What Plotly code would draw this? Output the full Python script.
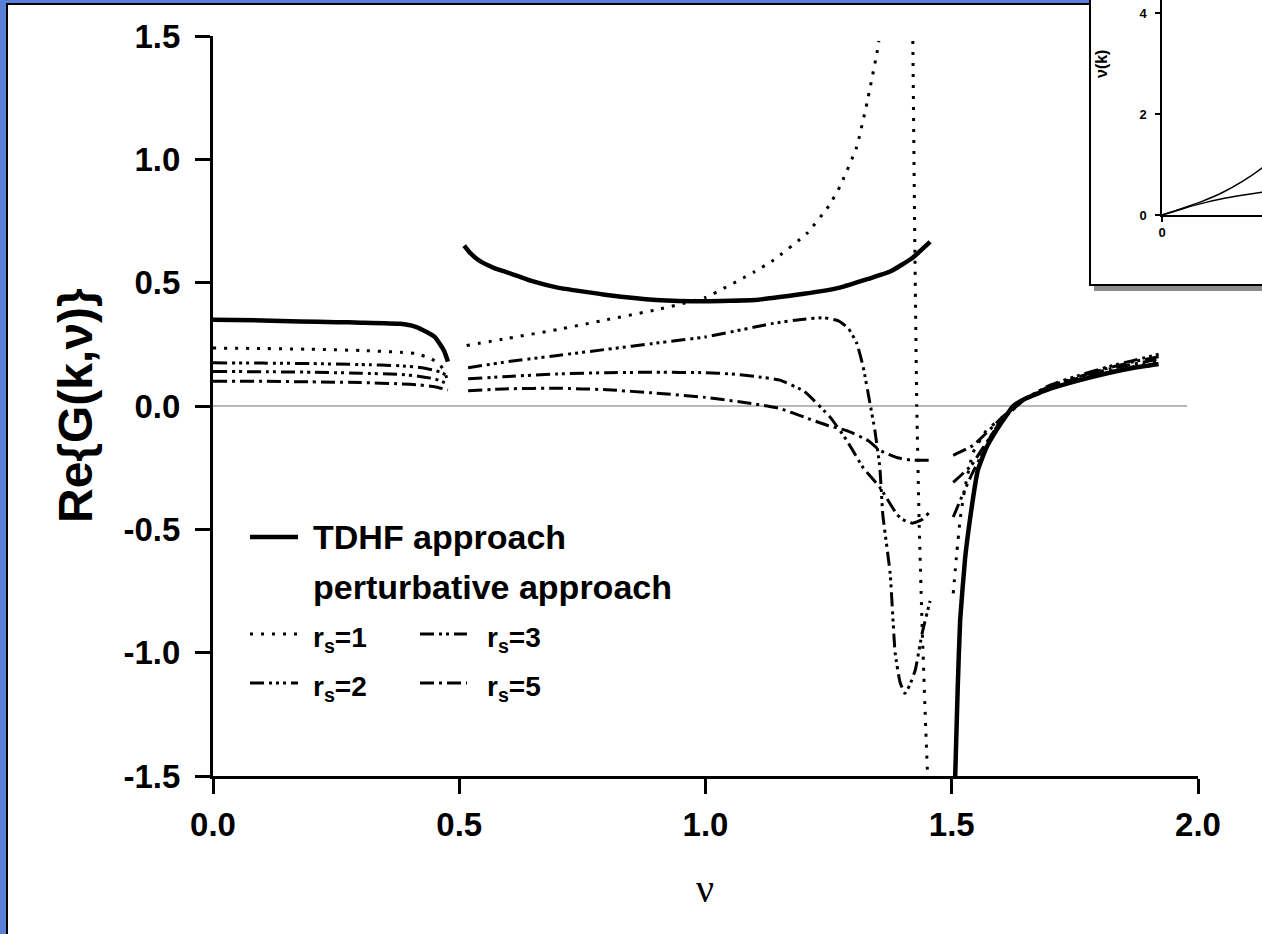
import plotly.graph_objects as go

W, H = 1262, 934

# ---------------- data ----------------
TDHF_NU = [0, 0.1, 0.177, 0.25, 0.3, 0.38, 0.41, 0.434, 0.45, 0.461, 0.47, 0.477, None,
           0.51, 0.52, 0.54, 0.57, 0.6, 0.65, 0.7, 0.8, 0.9, 1.0, 1.1, 1.2, 1.273, 1.33, 1.375, 1.42, 1.456, None,
           1.507, 1.512, 1.517, 1.527, 1.537, 1.553, 1.57, 1.584, 1.6, 1.625, 1.65, 1.7, 1.76, 1.82, 1.87, 1.92]
TDHF_G = [0.35, 0.347, 0.343, 0.34, 0.338, 0.333, 0.322, 0.3, 0.28, 0.25, 0.22, 0.18, None,
          0.65, 0.625, 0.59, 0.56, 0.54, 0.505, 0.48, 0.45, 0.43, 0.425, 0.43, 0.455, 0.48, 0.515, 0.545, 0.6, 0.665, None,
          -1.5, -1.15, -0.87, -0.62, -0.46, -0.26, -0.17, -0.12, -0.07, 0.0, 0.03, 0.07, 0.105, 0.135, 0.155, 0.17]

RS1_NU = [0, 0.1, 0.2, 0.3, 0.38, 0.41, 0.44, 0.46, 0.47, 0.478, None,
          0.515, 0.6, 0.7, 0.8, 0.9, 1.0, 1.1, 1.137, 1.206, 1.25, 1.273, 1.307, 1.328, 1.348, 1.352, None,
          1.421, 1.425, 1.429, 1.434, 1.44, 1.447, 1.451, None,
          1.503, 1.51, 1.517, 1.527, 1.543, 1.57, 1.6, 1.65, 1.7, 1.76, 1.82, 1.87, 1.92]
RS1_G = [0.235, 0.233, 0.23, 0.225, 0.218, 0.213, 0.195, 0.17, 0.14, 0.09, None,
         0.245, 0.275, 0.31, 0.35, 0.39, 0.44, 0.545, 0.59, 0.70, 0.81, 0.89, 1.05, 1.23, 1.43, 1.48, None,
         1.48, 0.66, 0.0, -0.49, -0.9, -1.3, -1.5, None,
         -0.76, -0.6, -0.46, -0.33, -0.19, -0.1, -0.05, 0.03, 0.075, 0.11, 0.14, 0.16, 0.18]

RS2_NU = [0, 0.1, 0.2, 0.3, 0.38, 0.42, 0.447, 0.465, 0.477, None,
          0.518, 0.55, 0.6, 0.7, 0.8, 0.9, 1.0, 1.1, 1.137, 1.2, 1.24, 1.27, 1.29, 1.307, 1.32, 1.334, 1.344,
          1.354, 1.36, 1.375, 1.385, 1.395, 1.405, 1.415, 1.426, 1.44, 1.456, None,
          1.503, 1.52, 1.54, 1.56, 1.58, 1.6, 1.65, 1.7, 1.76, 1.82, 1.87, 1.92]
RS2_G = [0.175, 0.174, 0.172, 0.168, 0.163, 0.156, 0.146, 0.135, 0.12, None,
         0.155, 0.165, 0.18, 0.205, 0.23, 0.255, 0.28, 0.32, 0.335, 0.352, 0.358, 0.345, 0.315, 0.255, 0.16, 0.01, -0.1,
         -0.25, -0.44, -0.68, -1.0, -1.12, -1.165, -1.13, -1.07, -0.92, -0.79, None,
         -0.45, -0.37, -0.28, -0.2, -0.12, -0.06, 0.03, 0.085, 0.125, 0.16, 0.185, 0.21]

RS3_NU = [0, 0.1, 0.2, 0.3, 0.38, 0.42, 0.45, 0.477, None,
          0.518, 0.6, 0.7, 0.8, 0.9, 1.0, 1.05, 1.1, 1.151, 1.2, 1.253, 1.287, 1.32, 1.354, 1.389, 1.4, 1.42, 1.44, 1.455, None,
          1.503, 1.54, 1.56, 1.58, 1.6, 1.65, 1.7, 1.76, 1.82, 1.87, 1.92]
RS3_G = [0.14, 0.139, 0.137, 0.133, 0.128, 0.12, 0.11, 0.09, None,
         0.11, 0.12, 0.13, 0.135, 0.137, 0.135, 0.13, 0.12, 0.105, 0.06, -0.045, -0.14, -0.25, -0.33, -0.44, -0.46, -0.475, -0.46, -0.43, None,
         -0.31, -0.24, -0.18, -0.12, -0.06, 0.03, 0.08, 0.12, 0.155, 0.18, 0.2]

RS5_NU = [0, 0.1, 0.2, 0.3, 0.38, 0.42, 0.45, 0.477, None,
          0.518, 0.6, 0.7, 0.8, 0.9, 1.0, 1.1, 1.151, 1.2, 1.25, 1.287, 1.33, 1.354, 1.39, 1.42, 1.456, None,
          1.503, 1.543, 1.57, 1.6, 1.65, 1.7, 1.76, 1.82, 1.87, 1.92]
RS5_G = [0.1, 0.1, 0.098, 0.095, 0.09, 0.085, 0.078, 0.065, None,
         0.062, 0.07, 0.072, 0.066, 0.052, 0.035, 0.008, -0.01, -0.045, -0.08, -0.1, -0.14, -0.18, -0.21, -0.22, -0.22, None,
         -0.2, -0.16, -0.11, -0.05, 0.03, 0.08, 0.115, 0.15, 0.17, 0.19]

ZERO_NU = [0.0, 1.978]
ZERO_G = [0.0, 0.0]

INSET_K = [0, 0.1, 0.2, 0.3, 0.4, 0.5, 0.6]
INSET_UPPER = [0, 0.13, 0.27, 0.44, 0.66, 0.93, 1.25]
INSET_LOWER = [0, 0.12, 0.23, 0.32, 0.39, 0.45, 0.5]

X_TICKS = [0.0, 0.5, 1.0, 1.5, 2.0]
X_TICKTEXT = ["0.0", "0.5", "1.0", "1.5", "2.0"]
Y_TICKS = [-1.5, -1.0, -0.5, 0.0, 0.5, 1.0, 1.5]
Y_TICKTEXT = ["-1.5", "-1.0", "-0.5", "0.0", "0.5", "1.0", "1.5"]
INSET_Y_TICKS = [0, 2, 4]
INSET_X_TICKS = [0]

DASH_RS1 = "3px,8px"
DASH_RS2 = "14px,5px,3px,4px,3px,4px,3px,5px"
DASH_RS3 = "14px,5px,3px,4px,3px,5px"
DASH_RS5 = "14px,5px,3px,5px"

SERIES = [
    ("r<sub>s</sub>=1", RS1_NU, RS1_G, DASH_RS1),
    ("r<sub>s</sub>=2", RS2_NU, RS2_G, DASH_RS2),
    ("r<sub>s</sub>=3", RS3_NU, RS3_G, DASH_RS3),
    ("r<sub>s</sub>=5", RS5_NU, RS5_G, DASH_RS5),
]

# ---------------- helpers (pixel -> paper) ----------------
def px(x):
    return x / W

def py(y):
    return 1 - y / H

FONT = "Liberation Sans, Arial, sans-serif"
BLUE = "#5a7fd6"

fig = go.Figure()

fig.add_trace(go.Scatter(x=ZERO_NU, y=ZERO_G, mode="lines",
                         line=dict(color="#a0a0a0", width=1.5), xaxis="x", yaxis="y",
                         showlegend=False, hoverinfo="skip"))

for name, xs, ys, dash in SERIES:
    fig.add_trace(go.Scatter(x=xs, y=ys, mode="lines", name=name,
                             line=dict(color="black", width=3, dash=dash, shape="spline", smoothing=0.4),
                             connectgaps=False, xaxis="x", yaxis="y", showlegend=False))

fig.add_trace(go.Scatter(x=TDHF_NU, y=TDHF_G, mode="lines", name="TDHF approach",
                         line=dict(color="black", width=4.5, shape="spline", smoothing=0.4),
                         connectgaps=False, xaxis="x", yaxis="y", showlegend=False))

# inset curves
for ys in (INSET_UPPER, INSET_LOWER):
    fig.add_trace(go.Scatter(x=INSET_K, y=ys, mode="lines",
                             line=dict(color="black", width=1.5, shape="spline"),
                             xaxis="x2", yaxis="y2", showlegend=False, cliponaxis=True))

shapes = []
# white page with black border over blue background
shapes.append(dict(type="rect", xref="paper", yref="paper", x0=px(7), x1=px(1320), y0=py(1000), y1=py(4),
                   fillcolor="white", line=dict(color="black", width=2), layer="below"))
# inset shadow + box
shapes.append(dict(type="rect", xref="paper", yref="paper", x0=px(1094), x1=px(1320), y0=py(291), y1=py(-10),
                   fillcolor="#8c8c8c", line=dict(width=0), layer="below"))
shapes.append(dict(type="rect", xref="paper", yref="paper", x0=px(1090), x1=px(1320), y0=py(285), y1=py(-10),
                   fillcolor="white", line=dict(color="black", width=2), layer="below"))

# legend samples
ROW_TDHF, ROW_PERT, ROW_A, ROW_B = 537, 587, 634, 683
LEG = [
    (250, 298, ROW_TDHF, "solid", 4.5),
    (250, 298, ROW_A, DASH_RS1, 3),
    (250, 298, ROW_B, DASH_RS2, 3),
    (420, 467, ROW_A, DASH_RS3, 3),
    (420, 467, ROW_B, DASH_RS5, 3),
]
for x0, x1, y, dash, w in LEG:
    shapes.append(dict(type="line", xref="paper", yref="paper", x0=px(x0), x1=px(x1), y0=py(y), y1=py(y),
                       line=dict(color="black", width=w, dash=dash)))

annotations = []
def ann(text, x, y, size, xanchor="left", bold=True, angle=0, family=FONT):
    annotations.append(dict(text=text, x=px(x), y=py(y), xref="paper", yref="paper", showarrow=False,
                            xanchor=xanchor, yanchor="middle", textangle=angle,
                            font=dict(family=family, size=size, color="black", weight="bold" if bold else "normal")))

ann("TDHF approach", 311, ROW_TDHF, 34)
ann("perturbative approach", 311, ROW_PERT, 34)
ann("r<sub>s</sub>=1", 311, ROW_A + 5, 28)
ann("r<sub>s</sub>=2", 311, ROW_B + 5, 28)
ann("r<sub>s</sub>=3", 485, ROW_A + 5, 28)
ann("r<sub>s</sub>=5", 485, ROW_B + 5, 28)
ann("Re{G(k,ν)}", 76, 406, 48, xanchor="center", angle=-90)
ann("ν", 705, 888, 40, xanchor="center", bold=False, family="Liberation Serif, Times New Roman, serif")
ann("ν(k)", 1102, 64, 16, xanchor="center", angle=-90)

axis_common = dict(showline=True, linecolor="black", showgrid=False, zeroline=False,
                   ticks="outside", tickcolor="black", automargin=False)

fig.update_layout(
    width=W, height=H, template="none",
    margin=dict(l=0, r=0, t=0, b=0, pad=0, autoexpand=False),
    paper_bgcolor=BLUE, plot_bgcolor="rgba(0,0,0,0)",
    showlegend=False,
    xaxis=dict(domain=[px(213), px(1198)], range=[0, 2], anchor="y",
               tickvals=X_TICKS, ticktext=X_TICKTEXT, linewidth=3, ticklen=15, tickwidth=3,
               tickfont=dict(family=FONT, size=33, color="black", weight="bold"),
               ticklabelstandoff=2, **axis_common),
    yaxis=dict(domain=[py(776), py(36)], range=[-1.5, 1.5], anchor="x",
               tickvals=Y_TICKS, ticktext=Y_TICKTEXT, linewidth=3, ticklen=15, tickwidth=3,
               tickfont=dict(family=FONT, size=33, color="black", weight="bold"),
               ticklabelstandoff=8, **axis_common),
    xaxis2=dict(domain=[px(1162), 1.0], range=[0, 0.5], anchor="y2",
                tickvals=INSET_X_TICKS, ticktext=["0"], linewidth=1.5, ticklen=5, tickwidth=1.5,
                tickfont=dict(family=FONT, size=13, color="black", weight="bold"), **axis_common),
    yaxis2=dict(domain=[py(215), 1.0], range=[0, 215 / 50.5], anchor="x2",
                tickvals=INSET_Y_TICKS, ticktext=["0", "2", "4"], linewidth=1.5, ticklen=5, tickwidth=1.5,
                tickfont=dict(family=FONT, size=13, color="black", weight="bold"),
                ticklabelstandoff=6, **axis_common),
    shapes=shapes,
    annotations=annotations,
)

fig.write_html("out.html")
